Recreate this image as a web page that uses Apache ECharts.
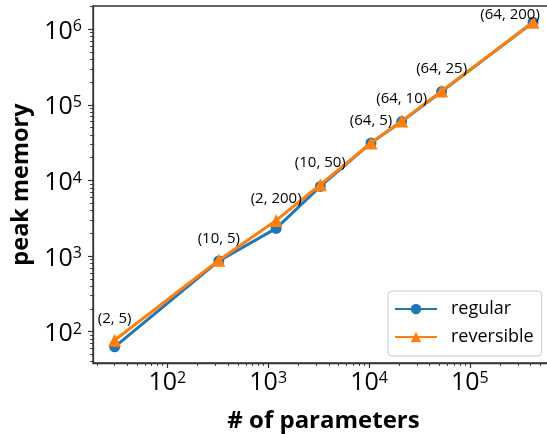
<!DOCTYPE html>
<html>
<head>
<meta charset="utf-8">
<script src="https://cdn.jsdelivr.net/npm/echarts@6/dist/echarts.min.js"></script>
<style>
html,body{margin:0;padding:0;background:#fff;}
#chart{width:547px;height:434px;}
</style>
</head>
<body>
<div id="chart"></div>
<script>
// ---- data ----
const params = [30, 324, 1200, 3290, 10470, 21100, 52500, 424000];
const regularMem = [63, 862, 2320, 8330, 31400, 60100, 150000, 1240000];
const reversibleMem = [77, 880, 2960, 8770, 31400, 61000, 152000, 1240000];
const pointLabels = ['(2, 5)', '(10, 5)', '(2, 200)', '(10, 50)', '(64, 5)', '(64, 10)', '(64, 25)', '(64, 200)'];
const xMajorTicks = [100, 1000, 10000, 100000];
const yMajorTicks = [100, 1000, 10000, 100000, 1000000];
const xRange = [18.3, 684000];
const yRange = [38.5, 2030000];

// ---- helpers ----
function minorTicks(lo, hi) {
  const out = [];
  for (let d = Math.floor(Math.log10(lo)); d <= Math.ceil(Math.log10(hi)); d++) {
    for (let m = 2; m <= 9; m++) {
      const v = m * Math.pow(10, d);
      if (v >= lo && v <= hi) out.push(v);
    }
  }
  return out;
}
const FONT = '"Open Sans", "DejaVu Sans", sans-serif';
const AXC = '#333';
const pow10Label = v => '{b|10}{s|' + Math.round(Math.log10(v)) + '}';
const richSup = {
  b: { fontSize: 25, lineHeight: 26, fontFamily: FONT, color: '#000' },
  s: { fontSize: 16, lineHeight: 10, verticalAlign: 'top', fontFamily: FONT, color: '#000' }
};

const lastIdx = params.length - 1;
const regularData = params.map((x, i) => [x, regularMem[i]]);
const reversibleData = params.map((x, i) => ({
  value: [x, reversibleMem[i]],
  label: {
    show: true,
    formatter: pointLabels[i],
    position: 'inside',
    offset: i === lastIdx ? [-23, -7] : [0, -22]
  }
}));

const chart = echarts.init(document.getElementById('chart'), null, { renderer: 'canvas' });
chart.setOption({
  animation: false,
  backgroundColor: '#fff',
  grid: { left: 93, top: 6, right: -7, bottom: 71, containLabel: false, outerBoundsMode: 'none',
          show: true, borderColor: AXC, borderWidth: 1.3, backgroundColor: 'transparent' },
  legend: {
    orient: 'vertical',
    left: 388, top: 291,
    padding: [9, 8, 10, 6],
    itemWidth: 42, itemHeight: 13, itemGap: 10,
    borderColor: '#ccc', borderWidth: 1, borderRadius: 4,
    backgroundColor: 'rgba(255,255,255,0.8)',
    textStyle: { fontSize: 18, fontFamily: FONT, color: '#000', padding: [0, 0, 0, 9] },
    data: ['regular', 'reversible']
  },
  xAxis: [{
    type: 'log', logBase: 10, min: xRange[0], max: xRange[1],
    axisLine: { show: true, lineStyle: { color: AXC, width: 1.3 } },
    axisTick: { show: true, length: 5, inside: false, customValues: xMajorTicks, lineStyle: { color: AXC, width: 1.2 } },
    axisLabel: { customValues: xMajorTicks, formatter: pow10Label, rich: richSup, margin: 7 },
    splitLine: { show: false },
    name: '# of parameters', nameLocation: 'middle', nameGap: 46,
    nameTextStyle: { fontSize: 24, fontWeight: 'bold', fontFamily: FONT, color: '#000' }
  }, {
    type: 'log', logBase: 10, min: xRange[0], max: xRange[1], position: 'bottom',
    axisLine: { show: false },
    axisTick: { show: true, length: 2.8, customValues: minorTicks(xRange[0], xRange[1]), lineStyle: { color: AXC, width: 1 } },
    axisLabel: { show: false }, splitLine: { show: false }
  }],
  yAxis: [{
    type: 'log', logBase: 10, min: yRange[0], max: yRange[1],
    axisLine: { show: true, lineStyle: { color: AXC, width: 1.3 } },
    axisTick: { show: true, length: 5, customValues: yMajorTicks, lineStyle: { color: AXC, width: 1.2 } },
    axisLabel: { customValues: yMajorTicks, formatter: pow10Label, rich: richSup, margin: 11, padding: [5, 0, 0, 0] },
    splitLine: { show: false },
    name: 'peak memory', nameLocation: 'middle', nameGap: 55, nameRotate: 90,
    nameTextStyle: { fontSize: 23.5, fontWeight: 'bold', fontFamily: FONT, color: '#000' }
  }, {
    type: 'log', logBase: 10, min: yRange[0], max: yRange[1], position: 'left',
    axisLine: { show: false },
    axisTick: { show: true, length: 2.8, customValues: minorTicks(yRange[0], yRange[1]), lineStyle: { color: AXC, width: 1 } },
    axisLabel: { show: false }, splitLine: { show: false }
  }],
  series: [{
    name: 'regular', type: 'line', xAxisIndex: 0, yAxisIndex: 0,
    data: regularData,
    symbol: 'circle', symbolSize: 11,
    lineStyle: { color: '#1f77b4', width: 3 },
    itemStyle: { color: '#1f77b4' },
    z: 2
  }, {
    name: 'reversible', type: 'line', xAxisIndex: 0, yAxisIndex: 0,
    data: reversibleData,
    symbol: 'triangle', symbolSize: 13,
    lineStyle: { color: '#ff7f0e', width: 3 },
    itemStyle: { color: '#ff7f0e' },
    label: { fontSize: 15, fontFamily: FONT, color: '#000' },
    z: 3
  }]
});
</script>
</body>
</html>
